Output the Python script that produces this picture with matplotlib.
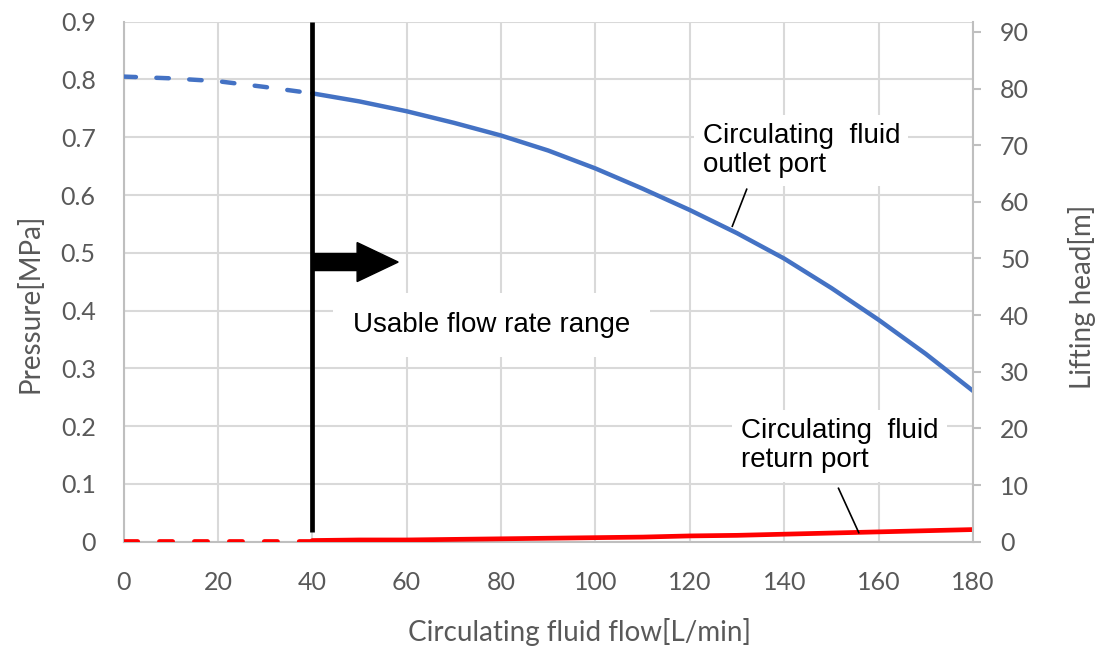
import matplotlib
matplotlib.use("Agg")
import matplotlib.pyplot as plt
import numpy as np

# ---- data ----
flow = [0, 10, 20, 30, 40, 50, 60, 70, 80, 90, 100, 110, 120, 130, 140, 150, 160, 170, 180]
outlet_pressure = [0.805, 0.802, 0.797, 0.787, 0.776, 0.762, 0.745, 0.725, 0.703, 0.677,
                   0.646, 0.611, 0.574, 0.534, 0.490, 0.439, 0.384, 0.325, 0.261]
return_pressure = [0.002, 0.002, 0.002, 0.002, 0.002, 0.003, 0.003, 0.004, 0.005, 0.006,
                   0.007, 0.008, 0.010, 0.011, 0.013, 0.015, 0.017, 0.019, 0.021]
usable_min_flow = 40
x_ticks = [0, 20, 40, 60, 80, 100, 120, 140, 160, 180]
y_ticks = [0, 0.1, 0.2, 0.3, 0.4, 0.5, 0.6, 0.7, 0.8, 0.9]
y_tick_labels = ["0", "0.1", "0.2", "0.3", "0.4", "0.5", "0.6", "0.7", "0.8", "0.9"]
head_ticks = [0, 10, 20, 30, 40, 50, 60, 70, 80, 90]
head_max = 91.8  # 0.9 MPa expressed as lifting head [m]

x_label = "Circulating fluid flow[L/min]"
y_label = "Pressure[MPa]"
y2_label = "Lifting head[m]"
outlet_text = "Circulating  fluid\noutlet port"
return_text = "Circulating  fluid\nreturn port"
range_text = "Usable flow rate range"

# ---- style ----
TICK_FONT = "Lato"
ANN_FONT = "Liberation Sans"
GRAY = "#595959"
GRID = "#d9d9d9"
SPINE = "#bfbfbf"
BLUE = "#4472C4"
RED = "#FF0000"
TICK_SIZE = 18
LABEL_SIZE = 20

fig = plt.figure(figsize=(11.04, 6.46), dpi=100)
ax = fig.add_axes([123.5 / 1104, 1 - 541.7 / 646, 849.5 / 1104, 520 / 646])

flow_a = np.array(flow)
out_a = np.array(outlet_pressure)
ret_a = np.array(return_pressure)
m_dash = flow_a <= usable_min_flow
m_solid = flow_a >= usable_min_flow

lw = 3.2
dash = (2.8, 4.6)
ax.plot(flow_a[m_dash], out_a[m_dash], color=BLUE, lw=lw, dashes=dash,
        dash_capstyle="round", zorder=3)
ax.plot(flow_a[m_solid], out_a[m_solid], color=BLUE, lw=lw,
        solid_capstyle="round", solid_joinstyle="round", zorder=3)
ax.plot(flow_a[m_dash], ret_a[m_dash], color=RED, lw=3.4, dashes=dash,
        dash_capstyle="round", zorder=3)
ax.plot(flow_a[m_solid], ret_a[m_solid], color=RED, lw=3.4,
        solid_capstyle="round", zorder=3)

# usable range marker
ax.plot([usable_min_flow, usable_min_flow], [0.0168, 0.9], color="black", lw=3.4,
        solid_capstyle="butt", zorder=4, clip_on=False)
ax.arrow(usable_min_flow, 0.484, 18.2, 0, width=0.0294, head_width=0.0675,
         head_length=8.7, length_includes_head=True, color="black", zorder=4)

ax.set_xlim(0, 180)
ax.set_ylim(0, 0.9)
ax.set_xticks(x_ticks)
ax.set_yticks(y_ticks)
ax.set_yticklabels(y_tick_labels)
ax.grid(True, color=GRID, lw=1.5)
ax.set_axisbelow(True)
for s in ["top", "right"]:
    ax.spines[s].set_visible(False)
for s in ["left", "bottom"]:
    ax.spines[s].set_color(SPINE)
    ax.spines[s].set_linewidth(1.5)
ax.tick_params(axis="both", length=0, labelsize=TICK_SIZE, labelcolor=GRAY)
ax.tick_params(axis="y", pad=20)
ax.tick_params(axis="x", pad=21)
for lab in ax.get_xticklabels() + ax.get_yticklabels():
    lab.set_fontfamily(TICK_FONT)

ax.set_xlabel(x_label, fontsize=LABEL_SIZE, color=GRAY, family=TICK_FONT)
ax.xaxis.set_label_coords(0.537, -0.146)
ax.set_ylabel(y_label, fontsize=LABEL_SIZE, color=GRAY, family=TICK_FONT)
ax.yaxis.set_label_coords(-0.094, 0.459)

ax2 = ax.twinx()
ax2.set_ylim(0, head_max)
ax2.set_yticks(head_ticks)
for s in ["top", "left", "bottom"]:
    ax2.spines[s].set_visible(False)
ax2.spines["right"].set_color(SPINE)
ax2.spines["right"].set_linewidth(1.5)
ax2.tick_params(axis="y", length=5.5, width=1.5, color=SPINE, labelsize=TICK_SIZE,
                labelcolor=GRAY, pad=14)
for lab in ax2.get_yticklabels():
    lab.set_fontfamily(TICK_FONT)
ax2.set_ylabel(y2_label, fontsize=LABEL_SIZE, color=GRAY, family=TICK_FONT)
ax2.yaxis.set_label_coords(1.112, 0.47)

# annotations
box = dict(facecolor="white", edgecolor="none", boxstyle="square,pad=0.3")
ax.text(48.6, 0.363, range_text, fontsize=20, family=ANN_FONT, color="black",
        ha="left", va="baseline", zorder=5,
        bbox=dict(facecolor="white", edgecolor="none", boxstyle="square,pad=0.7"))
ax.text(122.7, 0.7247, outlet_text, fontsize=20, family=ANN_FONT, color="black",
        ha="left", va="top", linespacing=1.15, zorder=5, bbox=box)
ax.text(130.8, 0.2136, return_text, fontsize=20, family=ANN_FONT, color="black",
        ha="left", va="top", linespacing=1.15, zorder=5, bbox=box)
ax.plot([132.05, 129.0], [0.610, 0.546], color="black", lw=1.2, zorder=5)
ax.plot([151.5, 155.8], [0.0924, 0.0156], color="black", lw=1.2, zorder=5)

fig.savefig("out.png", dpi=100)
